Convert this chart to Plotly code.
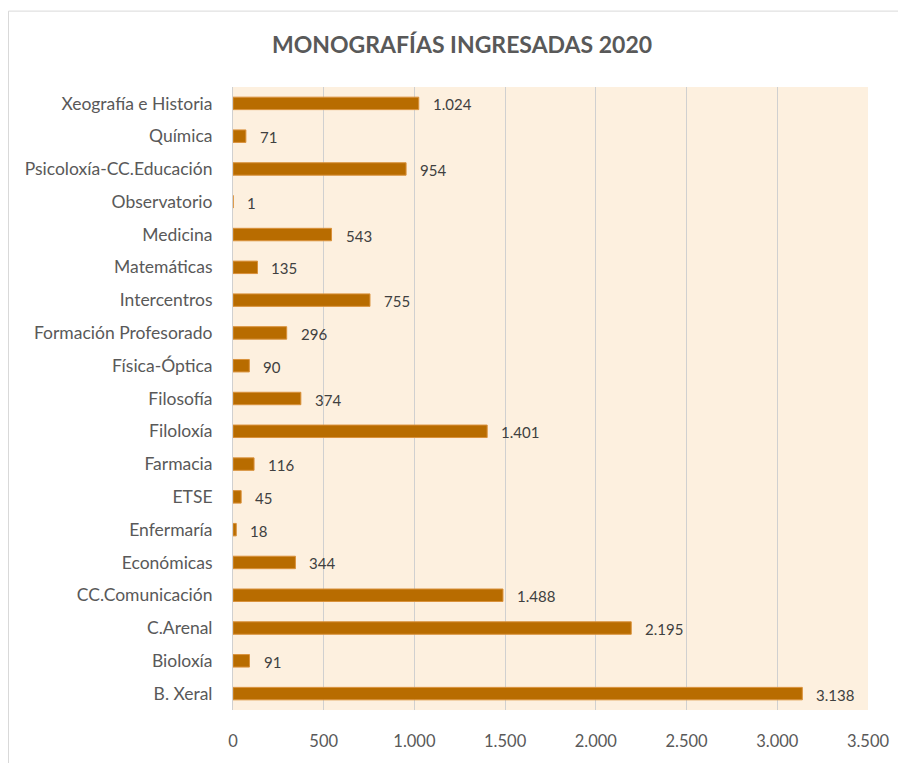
import plotly.graph_objects as go

categories = ["B. Xeral", "Bioloxía", "C.Arenal", "CC.Comunicación", "Económicas",
              "Enfermaría", "ETSE", "Farmacia", "Filoloxía", "Filosofía",
              "Física-Óptica", "Formación Profesorado", "Intercentros", "Matemáticas",
              "Medicina", "Observatorio", "Psicoloxía-CC.Educación", "Química",
              "Xeografía e Historia"]
values = [3138, 91, 2195, 1488, 344, 18, 45, 116, 1401, 374, 90, 296, 755, 135,
          543, 1, 954, 71, 1024]
x_ticks = [0, 500, 1000, 1500, 2000, 2500, 3000, 3500]

def fmt(v):
    return f"{v:,}".replace(",", ".")

FONT = "Lato, 'Open Sans', sans-serif"
TXT = "#595959"

# page body has an 8px margin; figure coords = page coords - 8
W, H = 898, 755
L, R, T, B = 225, 38, 79, 44
PW = W - L - R
PH = H - T - B

fig = go.Figure()
fig.add_trace(go.Bar(
    y=categories, x=values, orientation="h",
    marker=dict(color="#B86C00", line=dict(color="#D9913B", width=1)),
    width=0.38, hoverinfo="x+y",
))

annotations = [dict(x=v, y=c, xref="x", yref="y", text=fmt(v), showarrow=False,
                    xanchor="left", xshift=12, yshift=-1,
                    font=dict(size=15, color="#404040", family=FONT))
               for c, v in zip(categories, values)]
annotations.append(dict(text="<b>MONOGRAFÍAS INGRESADAS 2020</b>", xref="paper", yref="paper",
                        x=(454 - L) / PW, y=(PH + T - 35) / PH, xanchor="center", yanchor="middle",
                        showarrow=False, font=dict(size=23, color=TXT, family=FONT)))

fig.update_layout(
    width=W, height=H,
    margin=dict(l=L, r=R, t=T, b=B),
    paper_bgcolor="white", plot_bgcolor="#FDF0DF",
    separators=",.",
    showlegend=False,
    annotations=annotations,
    font=dict(family=FONT, color=TXT),
    shapes=[dict(type="rect", xref="paper", yref="paper",
                 x0=(0.5 - L) / PW, x1=(W + 40 - L) / PW,
                 y0=-100 / PH, y1=(PH + T - 2) / PH,
                 line=dict(color="#D9D9D9", width=1), fillcolor="rgba(0,0,0,0)", layer="below")],
)
fig.update_xaxes(range=[0, 3500], tickvals=x_ticks, ticktext=[fmt(t) for t in x_ticks],
                 showgrid=True, gridcolor="#D0D0D0", gridwidth=1, zeroline=False,
                 showline=False, ticks="outside", ticklen=16, tickcolor="rgba(0,0,0,0)",
                 tickfont=dict(size=16.5, color=TXT, family=FONT), fixedrange=True)
fig.update_yaxes(categoryorder="array", categoryarray=categories,
                 showgrid=False, zeroline=False, showline=True, linecolor="#D0D0D0", linewidth=1,
                 ticks="outside", ticklen=16, tickcolor="rgba(0,0,0,0)",
                 tickfont=dict(size=17.5, color=TXT, family=FONT), fixedrange=True)

fig.write_html("out.html")
